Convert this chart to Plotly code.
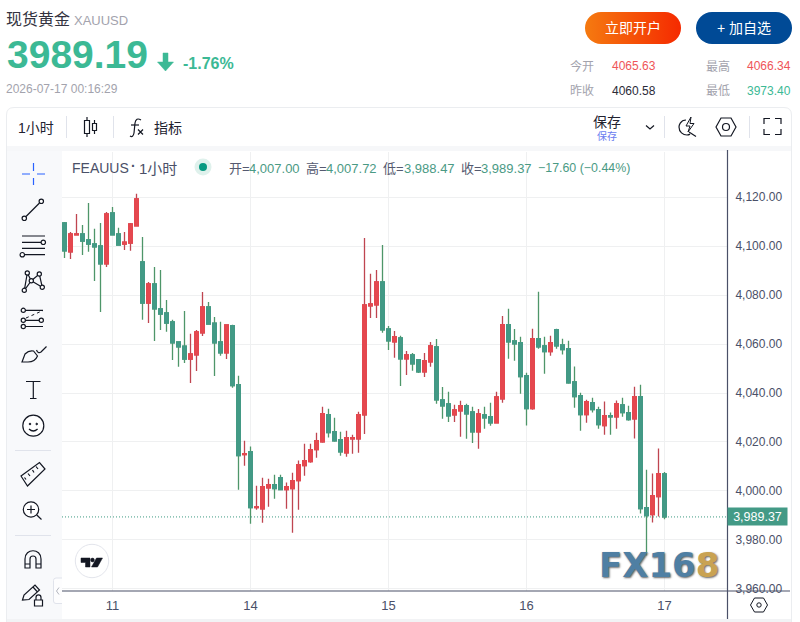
import base64
import plotly.graph_objects as go

# one candle per hour, 101 hours
opens = [4109.5, 4097.7, 4104.6, 4105.0, 4102.6, 4100.9, 4100.1, 4092.8, 4113.6, 4105.0,
         4100.9, 4101.3, 4108.3, 4093.6, 4076.8, 4084.6, 4074.4, 4072.7, 4069.1, 4060.9,
         4059.2, 4053.9, 4055.6, 4064.6, 4075.2, 4068.6, 4060.9, 4056.4, 4067.5, 4043.4,
         4014.8, 4016.0, 3993.2, 3992.7, 4001.3, 4002.6, 4005.4, 4000.5, 4000.9, 4004.2,
         4010.3, 4012.0, 4016.9, 4020.1, 4031.2, 4024.2, 4020.9, 4015.6, 4021.3, 4021.3,
         4031.1, 4075.6, 4076.0, 4085.4, 4066.2, 4060.9, 4062.5, 4054.0, 4055.6, 4053.6,
         4048.7, 4052.7, 4058.9, 4037.2, 4035.6, 4031.1, 4032.7, 4034.8, 4032.3, 4024.1,
         4031.1, 4030.3, 4027.8, 4037.6, 4067.9, 4061.3, 4060.6, 4047.1, 4033.6, 4062.2,
         4059.3, 4056.9, 4065.9, 4059.7, 4058.1, 4044.6, 4038.9, 4031.2, 4036.1, 4033.2,
         4026.7, 4030.8, 4030.3, 4035.2, 4032.0, 4029.5, 4038.5, 3993.2, 3990.3, 3997.7,
         4007.00]
highs = [4109.9, 4105.8, 4113.2, 4108.7, 4117.7, 4107.1, 4109.5, 4114.0, 4116.0, 4107.5,
         4105.8, 4109.5, 4121.4, 4103.8, 4085.4, 4091.5, 4090.3, 4078.0, 4069.9, 4060.9,
         4073.5, 4064.2, 4065.8, 4081.3, 4077.2, 4071.1, 4069.1, 4067.8, 4067.9, 4047.1,
         4020.5, 4018.1, 4002.1, 4005.4, 4005.0, 4006.6, 4006.6, 4003.4, 4007.4, 4012.4,
         4019.3, 4019.3, 4023.8, 4034.4, 4033.6, 4029.9, 4024.2, 4024.6, 4023.0, 4032.4,
         4103.4, 4088.7, 4090.3, 4100.5, 4067.4, 4065.4, 4063.4, 4057.2, 4056.4, 4053.6,
         4056.4, 4060.9, 4062.1, 4042.5, 4040.5, 4035.2, 4036.8, 4035.6, 4034.4, 4033.5,
         4034.4, 4036.0, 4040.5, 4071.5, 4074.4, 4066.2, 4063.0, 4048.3, 4066.3, 4081.4,
         4063.0, 4063.4, 4066.3, 4062.2, 4061.4, 4050.8, 4040.1, 4037.3, 4038.1, 4034.4,
         4036.5, 4032.0, 4036.9, 4038.1, 4034.8, 4042.6, 4043.4, 4008.7, 4007.1, 4017.3,
         4007.72]
lows = [4095.2, 4094.8, 4104.6, 4096.4, 4097.7, 4085.8, 4073.1, 4091.5, 4104.6, 4100.5,
        4098.5, 4098.1, 4108.3, 4069.9, 4068.6, 4061.3, 4065.8, 4065.0, 4053.5, 4050.7,
        4052.3, 4044.1, 4049.0, 4063.3, 4068.2, 4047.0, 4055.2, 4053.9, 4042.2, 4000.5,
        4010.3, 3986.6, 3992.3, 3987.0, 3993.5, 3996.8, 4000.5, 3992.7, 3982.9, 3992.3,
        4006.2, 4011.5, 4013.6, 4019.7, 4021.8, 4020.1, 4014.4, 4014.0, 4015.2, 4015.6,
        4023.3, 4070.7, 4070.7, 4064.6, 4057.6, 4054.4, 4042.9, 4047.4, 4049.1, 4048.2,
        4046.6, 4050.7, 4035.6, 4029.5, 4028.2, 4028.2, 4022.1, 4021.3, 4019.6, 4017.2,
        4025.4, 4026.6, 4027.8, 4036.0, 4054.0, 4053.2, 4039.7, 4026.7, 4033.2, 4058.1,
        4047.9, 4055.2, 4058.1, 4055.7, 4043.8, 4034.0, 4024.6, 4027.9, 4032.0, 4025.4,
        4023.0, 4023.0, 4025.4, 4030.3, 4028.7, 4021.4, 3990.8, 3973.6, 3987.1, 3989.5,
        3988.47]
closes = [4098.1, 4105.0, 4105.0, 4102.1, 4100.9, 4099.7, 4092.8, 4113.2, 4104.6, 4100.5,
          4101.7, 4109.1, 4119.3, 4076.8, 4084.6, 4074.4, 4072.3, 4068.6, 4060.5, 4058.9,
          4053.9, 4056.0, 4065.0, 4075.2, 4068.2, 4060.5, 4056.4, 4067.8, 4043.0, 4014.4,
          4015.2, 3993.2, 3993.5, 4001.7, 4002.6, 4000.9, 4000.5, 4001.7, 4004.2, 4010.7,
          4012.4, 4016.9, 4020.5, 4031.6, 4023.8, 4020.5, 4016.0, 4021.8, 4021.8, 4031.2,
          4076.0, 4076.4, 4085.4, 4065.8, 4061.3, 4063.0, 4054.0, 4055.6, 4051.9, 4048.7,
          4053.2, 4059.3, 4037.2, 4034.8, 4030.7, 4033.1, 4034.8, 4031.5, 4024.1, 4031.5,
          4029.9, 4027.8, 4038.4, 4067.9, 4060.9, 4060.1, 4046.7, 4033.6, 4062.2, 4058.9,
          4056.9, 4060.6, 4059.3, 4057.7, 4044.2, 4038.5, 4031.2, 4036.5, 4033.2, 4027.1,
          4030.8, 4030.3, 4035.7, 4032.0, 4029.1, 4038.5, 3992.8, 3989.9, 3998.1, 4007.1,
          3989.37]
hours = list(range(len(closes)))
day_positions = [8, 31, 54, 77, 100]
day_labels = ["11", "14", "15", "16", "17"]
price_ticks = [3960, 3980, 4000, 4020, 4040, 4060, 4080, 4100, 4120]

GREEN = "#439a86"
RED = "#e5484f"
GREEN_WICK = "#4e9669"
RED_WICK = "#bf4550"
INK = "#131722"
AXIS = "#4a5068"
GREY = "#a3a3ad"
CJK = "Liberation Sans, Noto Sans CJK SC"

body_top = [max(o, c) for o, c in zip(opens, closes)]
body_bottom = [min(o, c) for o, c in zip(opens, closes)]

fig = go.Figure()

# wicks underneath, bodies on top: they have different colours in the original
fig.add_trace(go.Candlestick(
    x=hours, open=opens, high=highs, low=lows, close=closes,
    increasing=dict(line=dict(color=RED_WICK, width=1.3), fillcolor=RED),
    decreasing=dict(line=dict(color=GREEN_WICK, width=1.3), fillcolor=GREEN),
    whiskerwidth=0, hoverinfo="skip", showlegend=False,
))
fig.add_trace(go.Candlestick(
    x=hours, open=opens, high=body_top, low=body_bottom, close=closes,
    increasing=dict(line=dict(color=RED, width=1.3), fillcolor=RED),
    decreasing=dict(line=dict(color=GREEN, width=1.3), fillcolor=GREEN),
    whiskerwidth=0, hoverinfo="skip", showlegend=False,
))
# empty trace so the page-pixel axes exist for the surrounding page furniture
fig.add_trace(go.Scatter(x=[], y=[], xaxis="x2", yaxis="y2", showlegend=False, hoverinfo="skip"))

shapes = []
notes = []


def draw(path, color=INK, width=1.2, fill=None):
    shapes.append(dict(type="path", path=path, xref="x2", yref="y2", layer="above",
                       line=dict(color=color, width=width),
                       fillcolor=fill if fill else "rgba(0,0,0,0)"))


def line(x0, y0, x1, y1, color=INK, width=1.2, dash="solid"):
    shapes.append(dict(type="line", x0=x0, y0=y0, x1=x1, y1=y1, xref="x2", yref="y2", layer="above",
                       line=dict(color=color, width=width, dash=dash)))


def box(x0, y0, x1, y1, fill, layer="below"):
    shapes.append(dict(type="rect", x0=x0, y0=y0, x1=x1, y1=y1, xref="x2", yref="y2", layer=layer,
                       line=dict(width=0), fillcolor=fill))


def dot(cx, cy, r, color=INK, width=1.2, fill="#ffffff"):
    shapes.append(dict(type="circle", x0=cx - r, y0=cy - r, x1=cx + r, y1=cy + r, xref="x2", yref="y2",
                       layer="above", line=dict(color=color, width=width), fillcolor=fill))


def text(x, y, s, size=12, color=INK, anchor="left", family=CJK, shadow=None):
    font = dict(size=size, color=color, family=family)
    if shadow:
        font["shadow"] = shadow
    # annotation boxes sit about a pixel to the right of the anchor
    if anchor == "left":
        x -= 1
    notes.append(dict(x=x, y=y, text=s, xref="x2", yref="y2", showarrow=False, xanchor=anchor,
                      yanchor="middle", font=font, borderpad=0))


def pill(x0, x1, y0, y1, left, right, gid):
    # plotly shapes have no gradient fill, the pill button goes in as an svg image
    w, h = x1 - x0, y1 - y0
    svg = (f'<svg xmlns="http://www.w3.org/2000/svg" width="{w}" height="{h}" viewBox="0 0 {w} {h}">'
           f'<defs><linearGradient id="{gid}"><stop offset="0" stop-color="{left}"/>'
           f'<stop offset="1" stop-color="{right}"/></linearGradient></defs>'
           f'<rect width="{w}" height="{h}" rx="{h / 2}" fill="url(#{gid})"/></svg>')
    src = "data:image/svg+xml;base64," + base64.b64encode(svg.encode()).decode()
    return dict(source=src, x=x0, y=y0, sizex=w, sizey=h, xref="x2", yref="y2",
                xanchor="left", yanchor="top", sizing="stretch", layer="below")


# page header
text(6, 19, "现货黄金", 16, "#333340")
text(74, 20, "XAUUSD", 13, GREY)
text(7, 54, "<b>3989.19</b>", 39, "#3cb995")
draw("M 163 53 L 168 53 L 168 62 L 173.5 62 L 165.5 71 L 157.5 62 L 163 62 Z", "#3cb995", 0.5, "#3cb995")
text(183, 63, "<b>-1.76%</b>", 16, "#3cb995")
text(6, 89, "2026-07-17 00:16:29", 12, GREY)

text(633, 28, "立即开户", 14, "#ffffff", "center")
text(744, 28, "+ 加自选", 14, "#ffffff", "center")
for label, x, y in [("今开", 570, 66), ("最高", 706, 66), ("昨收", 570, 90.5), ("最低", 706, 90.5)]:
    text(x, y, label, 12, GREY)
text(612, 66, "4065.63", 12, "#ef5558")
text(747, 66, "4066.34", 12, "#ef5558")
text(612, 90.5, "4060.58", 12, "#2b2b38")
text(747, 90.5, "3973.40", 12, "#3cb995")

# chart card and its top toolbar
shapes.append(dict(type="path", path="M 6.5 622 L 6.5 115 Q 6.5 107.5 14 107.5 L 784 107.5 Q 791.5 107.5 791.5 115 L 791.5 622",
                   xref="x2", yref="y2", layer="below", line=dict(color="#ebedf0", width=1)))
box(7, 146, 791, 151, "#f6f7f9")
box(7, 151, 62, 622, "#f8f9fb")
box(7, 619, 791, 622, "#f2f3f5")
text(18, 128, "1小时", 14, "#222230")
text(154, 128, "指标", 14, "#222230")
text(607, 122, "保存", 14, "#222230", "center")
text(607, 136, "保存", 10, "#6a7cf0", "center")
for x in [66.5, 113.5, 664.5, 749.5]:
    line(x, 116, x, 138, "#e0e3eb", 1)

# candle icon
line(87, 117, 87, 137)
shapes.append(dict(type="rect", x0=84.5, y0=120.5, x1=89.5, y1=133.5, xref="x2", yref="y2", layer="above",
                   line=dict(color=INK, width=1.2), fillcolor="#ffffff"))
line(94.5, 120, 94.5, 134)
shapes.append(dict(type="rect", x0=92.5, y0=123.5, x1=96.5, y1=130.5, xref="x2", yref="y2", layer="above",
                   line=dict(color=INK, width=1.2), fillcolor="#ffffff"))
# fx icon
draw("M 141 120 Q 136 117 135 123 L 134 133 Q 133 138 130 136")
draw("M 131 125 L 139 125")
draw("M 138 129.5 L 143 134.5 M 143 129.5 L 138 134.5")
# chevron, alert, hexagon, fullscreen
draw("M 646 125.5 L 650 129 L 654 125.5")
draw("M 686 120 C 680 120 679 126 679 127 C 679 132 683 135 687 135 C 688 135 689 135 690 134 M 689 132 L 696 136.5")
draw("M 691 117 L 686 126 L 690 126 L 688 132 L 694 123.5 L 690 123.5 Z", INK, 1)
draw("M 716 127 L 721 118 L 731 118 L 736 127 L 731 136 L 721 136 Z")
dot(726, 127, 3.5)
draw("M 764 124 L 764 118.5 L 770 118.5 M 775 118.5 L 781 118.5 L 781 124 M 781 129 L 781 134.5 L 775 134.5 M 770 134.5 L 764 134.5 L 764 129")

# left toolbar icons
BLUE = "#2962ff"
draw("M 22 174 L 30 174 M 37 174 L 45 174 M 33.5 163 L 33.5 171 M 33.5 178 L 33.5 185", BLUE, 1.2)
draw("M 26 216.5 L 39.5 203")
dot(24.3, 218.3, 2.2)
dot(41.3, 201.3, 2.2)
draw("M 22 236 L 45 236 M 22 242.3 L 41 242.3 M 22 248.4 L 45 248.4 M 24.5 254.7 L 45 254.7")
dot(43.3, 242.3, 2.2)
dot(22.3, 254.7, 2.2)
draw("M 24.3 290.3 L 27.3 273 L 31.3 280.7 L 39.3 274 L 42.3 287.3 L 31.3 280.7 L 24.3 290.3")
for cx, cy in [(27.3, 273), (39.3, 274), (24.3, 290.3), (31.3, 280.7), (42.3, 287.3)]:
    dot(cx, cy, 2.1)
draw("M 25.5 310.3 L 43 310.3 M 25.5 320.3 L 39 320.3 M 25.5 326.5 L 43 326.5")
line(26, 318, 43, 310.5, INK, 1, "dot")
for cx, cy in [(23.3, 310.3), (23.3, 320.3), (23.3, 326.5), (41.3, 320.3)]:
    dot(cx, cy, 2.1)
draw("M 22 362 L 25 354 Q 29 350 33.5 351 L 37.5 356 Q 35 362 28 362 Z")
draw("M 36.5 350 Q 38 354 41 352 L 46.5 346.5")
draw("M 26 381.5 L 40.5 381.5 M 33.3 381.5 L 33.3 398.5 M 30 398.5 L 36.5 398.5")
dot(33.3, 425.7, 10.5, INK, 1.2)
dot(30, 424, 0.8, INK, 1, INK)
dot(36.7, 424, 0.8, INK, 1, INK)
draw("M 29 429 Q 33.3 433 37.6 429")
line(15, 450.5, 51, 450.5, "#e0e3eb", 1)
draw("M 21 476 L 39.5 462.5 L 45 469 L 27.5 486 Z")
draw("M 26 479.5 L 24.5 477.5 M 30 476 L 28 473.5 M 34 472.5 L 32.5 470 M 38 469 L 36 466.5")
dot(31, 509.5, 7.7)
draw("M 27 509.5 L 35 509.5 M 31 505.5 L 31 513.5 M 36.8 515 L 41.5 519.5")
line(15, 535.5, 51, 535.5, "#e0e3eb", 1)
draw("M 25 568 L 25 559 C 25 548 41 548 41 559 L 41 568 L 36 568 L 36 559 C 36 555 30 555 30 559 L 30 568 Z")
draw("M 25 564 L 30 564 M 36 564 L 41 564")
draw("M 22.5 600 L 24 595 L 35 585 L 39.5 590 L 29 599.5 Z M 33 587 L 37.5 592")
shapes.append(dict(type="rect", x0=34.5, y0=600, x1=42.5, y1=606, xref="x2", yref="y2", layer="above",
                   line=dict(color=INK, width=1.2), fillcolor="#ffffff"))
draw("M 36 600 L 36 597.5 C 36 594 41 594 41 597.5 L 41 600")
shapes.append(dict(type="path", path="M 62 578 L 56 578 Q 53.5 578 53.5 580.5 L 53.5 601 Q 53.5 603.5 56 603.5 L 62 603.5",
                   xref="x2", yref="y2", layer="above", line=dict(color="#e0e3eb", width=1), fillcolor="#fdfdfe"))
draw("M 59 587.5 L 56.5 591 L 59 594.5", "#b2b5be", 1)

# chart frame, drawn over the axes
line(727.5, 150, 727.5, 619, AXIS, 1.2)
line(62, 591, 790, 591, AXIS, 1.2)
draw("M 750.5 605 L 754.5 598 L 763.5 598 L 767.5 605 L 763.5 612 L 754.5 612 Z", INK, 1)
dot(759, 605, 2.2, INK, 1)

# tradingview badge
dot(92, 561, 16.7, "#e3e5ec", 1)
draw("M 81 558 L 90 558 L 90 567 L 85.5 567 L 85.5 562.5 L 81 562.5 Z", INK, 0.5, INK)
dot(92.5, 560, 1.9, INK, 0.5, INK)
draw("M 96.5 558 L 102.5 558 L 97.5 567 L 91.5 567 Z", INK, 0.5, INK)

# legend row above the candles
text(72, 168, "FEAUUS", 14, AXIS)
text(133, 166, "<b>·</b>", 14, AXIS, "center")
text(139, 168, "1小时", 15, AXIS)
dot(203, 167, 8.5, "#dff1ec", 0, "#dff1ec")
dot(203, 167, 4, "#089981", 0, "#089981")
legend_items = [(229, "开="), (306, "高="), (383, "低="), (461, "收=")]
for x, label in legend_items:
    text(x, 168, label, 13, "#555a70")
for x, value in [(249, "4,007.00"), (326, "4,007.72"), (404, "3,988.47"), (481, "3,989.37")]:
    text(x, 168, value, 13, "#4a9a84")
text(538, 168, "−17.60 (−0.44%)", 12.4, "#4a9a84")

# FX168 watermark
text(658.5, 565, '<b>FX16<span style="color:#c9a252">8</span></b>', 34, "#4f7fa3", "center",
     "DejaVu Sans", "1px 1px 2px #666666")

last = closes[-1]
shapes.append(dict(type="line", x0=0, x1=1, y0=last, y1=last, xref="x domain", yref="y", layer="above",
                   line=dict(color="#3f9a82", width=1, dash="1px,2px")))
notes.append(dict(x=1, y=last, xref="x domain", yref="y", xanchor="left", yanchor="middle", showarrow=False,
                  text=f"{last:,.2f}", bgcolor=GREEN, width=59, height=17, align="center", borderpad=0,
                  font=dict(size=12.5, color="#ffffff", family="Liberation Sans")))

fig.update_layout(
    width=800,
    height=622,
    autosize=False,
    margin=dict(l=0, r=0, t=0, b=0),
    paper_bgcolor="#ffffff",
    plot_bgcolor="rgba(0,0,0,0)",  # a solid one on the page-pixel axes would hide the chart
    showlegend=False,
    hovermode=False,
    boxgap=0.15,
    font=dict(family=CJK, color=AXIS),
    xaxis=dict(
        domain=[62 / 800, 727 / 800],
        range=[-0.417, 110.417],
        tickmode="array",
        tickvals=day_positions,
        ticktext=day_labels,
        tickfont=dict(size=13, color=AXIS, family="Liberation Sans"),
        ticks="outside",
        ticklen=2,
        tickcolor="rgba(0,0,0,0)",
        showgrid=True,
        gridcolor="#eff0f1",
        gridwidth=1,
        zeroline=False,
        showline=False,
        automargin=False,
        rangeslider=dict(visible=False),
    ),
    yaxis=dict(
        domain=[1 - 591 / 622, 1 - 152 / 622],
        range=[3959.1, 4138.5],
        side="right",
        tickmode="array",
        tickvals=price_ticks,
        ticktext=[f"{p:,.2f}" for p in price_ticks],
        tickfont=dict(size=12, color=AXIS, family="Liberation Sans"),
        ticks="outside",
        ticklen=5,
        tickcolor="rgba(0,0,0,0)",
        showgrid=True,
        gridcolor="#eff0f1",
        gridwidth=1,
        zeroline=False,
        showline=False,
        automargin=False,
    ),
    xaxis2=dict(domain=[0, 1], range=[0, 800], anchor="y2", visible=False, fixedrange=True, automargin=False),
    yaxis2=dict(domain=[0, 1], range=[622, 0], anchor="x2", visible=False, fixedrange=True, automargin=False),
    shapes=shapes,
    annotations=notes,
    images=[pill(585, 681, 12, 44, "#f57a10", "#f52a00", "open"),
            pill(696, 792, 12, 44, "#004a96", "#004a96", "add")],
)

# the page's default body margin would push everything 8px off
fig.write_html("out.html", config=dict(displayModeBar=False),
               post_script="document.body.style.margin='0';")
